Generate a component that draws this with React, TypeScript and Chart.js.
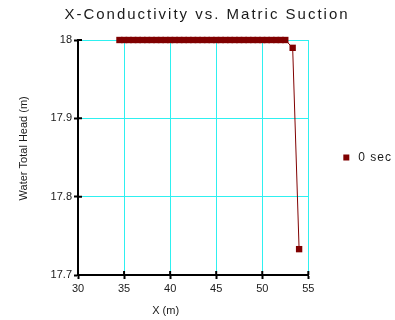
import React, { useEffect, useRef } from 'react';
import { Chart, registerables } from 'chart.js';

Chart.register(...registerables);

const chartTitle = 'X-Conductivity vs. Matric Suction';
const xAxisTitle = 'X (m)';
const yAxisTitle = 'Water Total Head (m)';
const seriesLabel = '0 sec';

const xValues = [
  34.5, 35.0, 35.5, 36.0, 36.5, 37.0, 37.5, 38.0, 38.5, 39.0, 39.5, 40.0, 40.5,
  41.0, 41.5, 42.0, 42.5, 43.0, 43.5, 44.0, 44.5, 45.0, 45.5, 46.0, 46.5, 47.0,
  47.5, 48.0, 48.5, 49.0, 49.5, 50.0, 50.5, 51.0, 51.5, 52.0, 52.5, 53.3, 54.0,
];
const yValues = [
  18, 18, 18, 18, 18, 18, 18, 18, 18, 18, 18, 18, 18,
  18, 18, 18, 18, 18, 18, 18, 18, 18, 18, 18, 18, 18,
  18, 18, 18, 18, 18, 18, 18, 18, 18, 18, 18, 17.99, 17.733,
];

const xTickValues = [30, 35, 40, 45, 50, 55];
const xTickLabels = ['30', '35', '40', '45', '50', '55'];
const yTickValues = [17.7, 17.8, 17.9, 18];
const yTickLabels = ['17.7', '17.8', '17.9', '18'];

const SERIES_COLOR = '#800000';
const GRID_COLOR = '#2ef0f0';
const TEXT_COLOR = '#1a1a1a';
const FONT = 'Arial, "Liberation Sans", sans-serif';

function spaceBlock(chart: any, block: any, spacing: string) {
  if (!block || block.__spaced) return;
  const orig = block.draw.bind(block);
  block.draw = (...args: any[]) => {
    const ctx = chart.ctx;
    ctx.save();
    ctx.letterSpacing = spacing;
    orig(...args);
    ctx.restore();
  };
  block.__spaced = true;
}

const spacedText = {
  id: 'spacedText',
  beforeDraw(chart: any) {
    spaceBlock(chart, chart.titleBlock, '2px');
    spaceBlock(chart, chart.legend, '1px');
  },
};

const innerTicks = {
  id: 'innerTicks',
  beforeDatasetsDraw(chart: any) {
    const { ctx, chartArea, scales } = chart;
    const len = 4;
    ctx.save();
    ctx.strokeStyle = '#000';
    ctx.lineWidth = 2;
    ctx.beginPath();
    xTickValues.forEach((v, i) => {
      if (i === 0) return;
      const px = scales.x.getPixelForValue(v);
      ctx.moveTo(px, chartArea.bottom);
      ctx.lineTo(px, chartArea.bottom - len);
    });
    yTickValues.forEach((v, i) => {
      if (i === 0) return;
      const py = scales.y.getPixelForValue(v);
      ctx.moveTo(chartArea.left, py);
      ctx.lineTo(chartArea.left + len, py);
    });
    ctx.stroke();
    ctx.restore();
  },
};

export default function App() {
  const ref = useRef<HTMLCanvasElement | null>(null);

  useEffect(() => {
    if (!ref.current) return;
    const points = xValues.map((x, i) => ({ x, y: yValues[i] }));
    const chart = new Chart(ref.current, {
      type: 'line',
      data: {
        datasets: [
          {
            label: seriesLabel,
            data: points,
            borderColor: SERIES_COLOR,
            backgroundColor: SERIES_COLOR,
            borderWidth: 1,
            pointStyle: 'rect',
            pointRadius: 4.5,
            pointBorderWidth: 0,
            pointBackgroundColor: SERIES_COLOR,
            tension: 0,
            clip: false,
          },
        ],
      },
      plugins: [spacedText, innerTicks],
      options: {
        responsive: false,
        animation: false,
        layout: { padding: { left: 17, right: -2, top: 0, bottom: 0 } },
        plugins: {
          title: {
            display: true,
            text: chartTitle,
            color: TEXT_COLOR,
            font: { family: FONT, size: 15, weight: 'normal' },
            padding: { top: 6, bottom: 16 },
          },
          legend: {
            position: 'right',
            fullSize: false,
            labels: {
              usePointStyle: true,
              boxWidth: 12,
              boxHeight: 6,
              padding: 32,
              color: TEXT_COLOR,
              font: { family: FONT, size: 12 },
            },
          },
          tooltip: { enabled: false },
        },
        scales: {
          x: {
            type: 'linear',
            min: 30,
            max: 55,
            afterFit: (s: any) => {
              s.height = 45;
            },
            afterBuildTicks: (s: any) => {
              s.ticks = xTickValues.map((v) => ({ value: v }));
            },
            ticks: {
              callback: (_v: any, i: number) => xTickLabels[i],
              color: TEXT_COLOR,
              padding: 3,
              maxRotation: 0,
              font: { family: FONT, size: 11 },
            },
            grid: {
              color: GRID_COLOR,
              lineWidth: 1,
              tickColor: '#000',
              tickLength: 4,
              tickWidth: 2,
            },
            border: { color: '#000', width: 2 },
            title: {
              display: true,
              text: xAxisTitle + '                  ',
              color: TEXT_COLOR,
              font: { family: FONT, size: 11 },
              padding: { top: 0, bottom: 2 },
            },
          },
          y: {
            type: 'linear',
            min: 17.7,
            max: 18,
            afterFit: (s: any) => {
              s.width = 61;
            },
            afterBuildTicks: (s: any) => {
              s.ticks = yTickValues.map((v) => ({ value: v }));
            },
            ticks: {
              callback: (_v: any, i: number) => yTickLabels[i],
              color: TEXT_COLOR,
              padding: 2,
              font: { family: FONT, size: 11 },
            },
            grid: {
              color: GRID_COLOR,
              lineWidth: 1,
              tickColor: '#000',
              tickLength: 4,
              tickWidth: 2,
            },
            border: { color: '#000', width: 2 },
            title: {
              display: true,
              text: '      ' + yAxisTitle,
              color: TEXT_COLOR,
              font: { family: FONT, size: 11 },
              padding: { top: 0, bottom: 0 },
            },
          },
        },
      },
    });
    return () => chart.destroy();
  }, []);

  return (
    <div style={{ position: 'absolute', left: 0, top: 0, width: 395, height: 320 }}>
      <canvas ref={ref} width={395} height={320} />
    </div>
  );
}
